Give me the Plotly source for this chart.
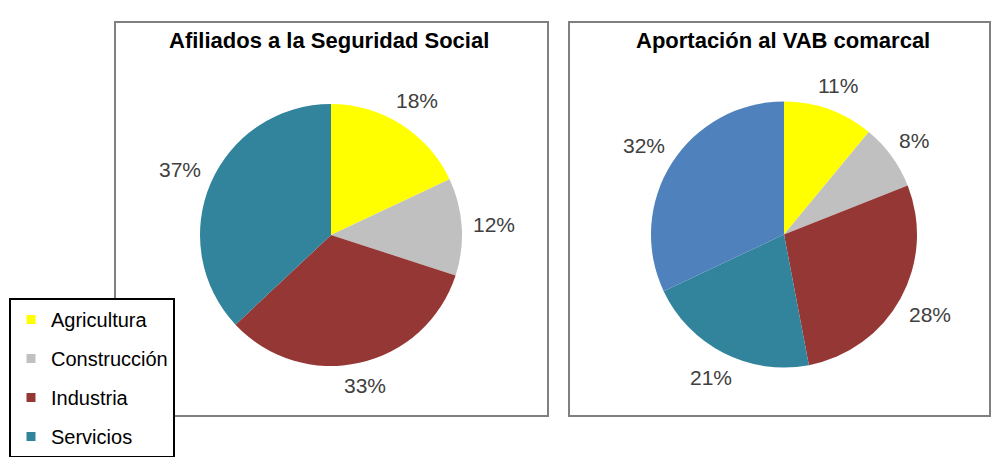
import math
import plotly.graph_objects as go

categories_left = ["Agricultura", "Construcción", "Industria", "Servicios"]
values_left = [18, 12, 33, 37]
categories_right = ["Agricultura", "Construcción", "Industria", "Servicios", "Energía"]
values_right = [11, 8, 28, 21, 32]
legend_labels = ["Agricultura", "Construcción", "Industria", "Servicios"]
title_left = "Afiliados a la Seguridad Social"
title_right = "Aportación al VAB comarcal"

colors = {
    "Agricultura": "#FFFF00",
    "Construcción": "#C0C0C0",
    "Industria": "#953735",
    "Servicios": "#31849B",
    "Energía": "#4F81BD",
}

W, H = 992, 457
font_family = "Liberation Sans, Arial, sans-serif"
LABEL_SIZE = 21


def dom(cx, cy, r):
    return dict(x=[(cx - r) / W, (cx + r) / W],
                y=[1 - (cy + r) / H, 1 - (cy - r) / H])


def outside_labels(values, cx, cy, r, gap=11):
    """Percent labels placed outside each slice, at its mid-angle (clockwise from 12 o'clock)."""
    total = float(sum(values))
    out = []
    cum = 0.0
    for v in values:
        frac = v / total
        theta = 2 * math.pi * (cum + frac / 2)
        cum += frac
        txt = f"{round(frac * 100):d}%"
        hw = (0.556 * (len(txt) - 1) + 0.889) * LABEL_SIZE / 2
        hh = 0.36 * LABEL_SIZE
        s, c = math.sin(theta), math.cos(theta)
        d = r + gap + abs(s) * hw + abs(c) * hh
        x = cx + d * s
        y = cy - d * c
        out.append(dict(text=txt, x=x / W, y=1 - y / H, xref="paper", yref="paper",
                        xanchor="center", yanchor="middle", showarrow=False,
                        font=dict(family=font_family, size=LABEL_SIZE, color="#404040")))
    return out


LEFT = (331, 235, 131)
RIGHT = (784, 234.5, 133)

fig = go.Figure()

fig.add_trace(go.Pie(
    labels=categories_left, values=values_left, sort=False, direction="clockwise",
    rotation=0, marker=dict(colors=[colors[c] for c in categories_left], line=dict(width=0)),
    textinfo="none", showlegend=False, hoverinfo="label+percent",
    domain=dom(*LEFT),
))
fig.add_trace(go.Pie(
    labels=categories_right, values=values_right, sort=False, direction="clockwise",
    rotation=0, marker=dict(colors=[colors[c] for c in categories_right], line=dict(width=0)),
    textinfo="none", showlegend=False, hoverinfo="label+percent",
    domain=dom(*RIGHT),
))

for i, lab in enumerate(legend_labels):
    fig.add_trace(go.Scatter(
        x=[None], y=[None], mode="markers", name=lab, legendgroup=f"g{i}",
        marker=dict(symbol="square", size=9, color=colors[lab]),
    ))

shapes = [
    dict(type="rect", xref="paper", yref="paper",
         x0=115 / W, x1=548 / W, y0=1 - 416 / H, y1=1 - 22 / H,
         line=dict(color="#808080", width=2), layer="below"),
    dict(type="rect", xref="paper", yref="paper",
         x0=569 / W, x1=990 / W, y0=1 - 416 / H, y1=1 - 22 / H,
         line=dict(color="#808080", width=2), layer="below"),
]

annotations = [
    dict(text=f"<b>{title_left}</b>", x=329 / W, y=1 - 40 / H, xref="paper", yref="paper",
         xanchor="center", yanchor="middle",
         showarrow=False, font=dict(family=font_family, size=22, color="#000000")),
    dict(text=f"<b>{title_right}</b>", x=783 / W, y=1 - 40 / H, xref="paper", yref="paper",
         xanchor="center", yanchor="middle",
         showarrow=False, font=dict(family=font_family, size=22, color="#000000")),
]
annotations += outside_labels(values_left, *LEFT)
annotations += outside_labels(values_right, *RIGHT)

fig.update_layout(
    width=W, height=H, margin=dict(l=0, r=0, t=0, b=0, autoexpand=False),
    paper_bgcolor="white", plot_bgcolor="white",
    xaxis=dict(visible=False), yaxis=dict(visible=False),
    shapes=shapes, annotations=annotations,
    legend=dict(x=9 / W, y=1 - 298 / H, xanchor="left", yanchor="top",
                bgcolor="white", bordercolor="#000000", borderwidth=2,
                font=dict(family=font_family, size=20, color="#000000"),
                traceorder="grouped", tracegroupgap=10, itemwidth=30),
)

fig.write_html("out.html", config={"displayModeBar": False},
               post_script="document.body.style.margin='0';document.body.style.overflow='hidden';")
